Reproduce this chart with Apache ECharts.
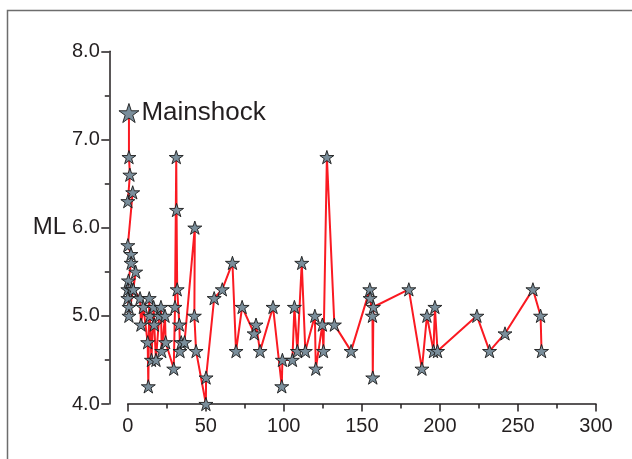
<!DOCTYPE html>
<html>
<head>
<meta charset="utf-8">
<script src="https://cdn.jsdelivr.net/npm/echarts@6/dist/echarts.min.js"></script>
<style>
html,body{margin:0;padding:0;background:#fff;}
#c{width:632px;height:459px;}
</style>
</head>
<body>
<div id="c"></div>
<script>
// Days after the mainshock (x) and local magnitude ML (y), in event order
var days = [0.8,0.8,1.4,0.1,3.2,0.1,2.1,2.2,0.5,0.1,2.6,0.1,0.8,0.8,5.1,3.6,7.9,8.5,10.0,12.8,13.2,13.8,14.2,15.2,16.6,17.0,18.1,20.2,21.3,21.8,23.9,24.3,29.5,30.3,31.1,31.3,31.7,33.1,33.5,34.3,36.4,43.0,42.7,43.8,50.1,50.2,55.4,60.6,67.1,69.4,73.3,81.0,82.2,84.8,93.1,98.7,99.1,105.5,106.8,108.7,111.5,113.8,119.9,120.5,124.7,125.4,127.6,132.4,143.1,155.1,155.3,156.8,157.0,157.4,180.1,188.5,191.7,195.9,196.8,198.5,223.7,231.8,241.7,259.6,264.5,265.1];
var magnitudes = [7.3,6.8,6.6,6.3,6.4,5.8,5.7,5.6,5.4,5.3,5.3,5.2,5.1,5.0,5.5,5.3,5.2,4.9,5.1,4.7,4.2,5.2,5.0,4.5,5.1,4.9,4.5,5.0,5.1,4.6,5.0,4.7,4.4,5.1,6.8,6.2,5.3,4.9,4.6,4.7,4.7,6.0,5.0,4.6,4.0,4.3,5.2,5.3,5.6,4.6,5.1,4.8,4.9,4.6,5.1,4.2,4.5,4.5,5.1,4.6,5.6,4.6,5.0,4.4,4.9,4.6,6.8,4.9,4.6,5.3,5.2,5.0,4.3,5.1,5.3,4.4,5.0,4.6,5.1,4.6,5.0,4.6,4.8,5.3,5.0,4.6];
var mainshockIndex = 0;
var mainshockLabel = 'Mainshock';
var xTicks = [0, 50, 100, 150, 200, 250, 300];
var yTicks = ['4.0', '5.0', '6.0', '7.0', '8.0'];
var yName = 'ML';

var STAR = 'path://M50 0 L61.23 34.55 L97.55 34.55 L68.17 55.9 L79.39 90.45 L50 69.1 L20.61 90.45 L31.83 55.9 L2.45 34.55 L38.77 34.55 Z';
var FONT = '"Liberation Sans", Arial, Helvetica, sans-serif';
var AXC = '#231f20';

var data = days.map(function (d, i) {
  var item = { value: [d, magnitudes[i]] };
  if (i === mainshockIndex) {
    item.symbolSize = 20;
    item.label = {
      show: true, position: 'right', distance: 2,
      formatter: mainshockLabel,
      fontFamily: FONT, fontSize: 26, color: '#231f20'
    };
  }
  return item;
});

var chart = echarts.init(document.getElementById('c'), null, { renderer: 'canvas' });
chart.setOption({
  animation: false,
  backgroundColor: '#ffffff',
  grid: { left: 127.7, right: 36, top: 51.3, bottom: 55, containLabel: false },
  graphic: [
    { type: 'polyline', shape: { points: [[7.5, 459], [7.5, 10.5], [632, 10.5]] },
      style: { stroke: '#6d6d6d', lineWidth: 1.5, fill: null }, silent: true }
  ],
  xAxis: {
    type: 'value', min: xTicks[0], max: xTicks[xTicks.length - 1], interval: 50,
    axisLine: { show: true, onZero: false, lineStyle: { color: AXC, width: 1.5 } },
    axisTick: { show: true, inside: false, length: 7.5, lineStyle: { color: AXC, width: 1.5 } },
    minorTick: { show: true, splitNumber: 2, length: 4.5, lineStyle: { color: AXC, width: 1.5 } },
    splitLine: { show: false },
    axisLabel: { margin: 12, fontFamily: FONT, fontSize: 20, color: AXC }
  },
  yAxis: {
    type: 'value', min: 4, max: 8, interval: 1, offset: 18.4,
    name: yName, nameLocation: 'middle', nameRotate: 0, nameGap: 43,
    nameTextStyle: { fontFamily: FONT, fontSize: 24, color: AXC },
    axisLine: { show: true, onZero: false, lineStyle: { color: AXC, width: 1.5 } },
    axisTick: { show: true, inside: false, length: 8, lineStyle: { color: AXC, width: 1.5 } },
    minorTick: { show: true, splitNumber: 2, length: 4.5, lineStyle: { color: AXC, width: 1.5 } },
    splitLine: { show: false },
    axisLabel: { margin: 9.5, fontFamily: FONT, fontSize: 20, color: AXC,
      formatter: function (v) { return yTicks[Math.round(v - 4)]; } }
  },
  series: [{
    type: 'line',
    data: data,
    symbol: STAR,
    symbolSize: 14,
    symbolKeepAspect: true,
    showAllSymbol: true,
    lineStyle: { color: '#fa1a22', width: 2 },
    itemStyle: { color: '#7a8e9b', borderColor: '#1a1a1a', borderWidth: 0.9 },
    z: 3
  }]
});
</script>
</body>
</html>
